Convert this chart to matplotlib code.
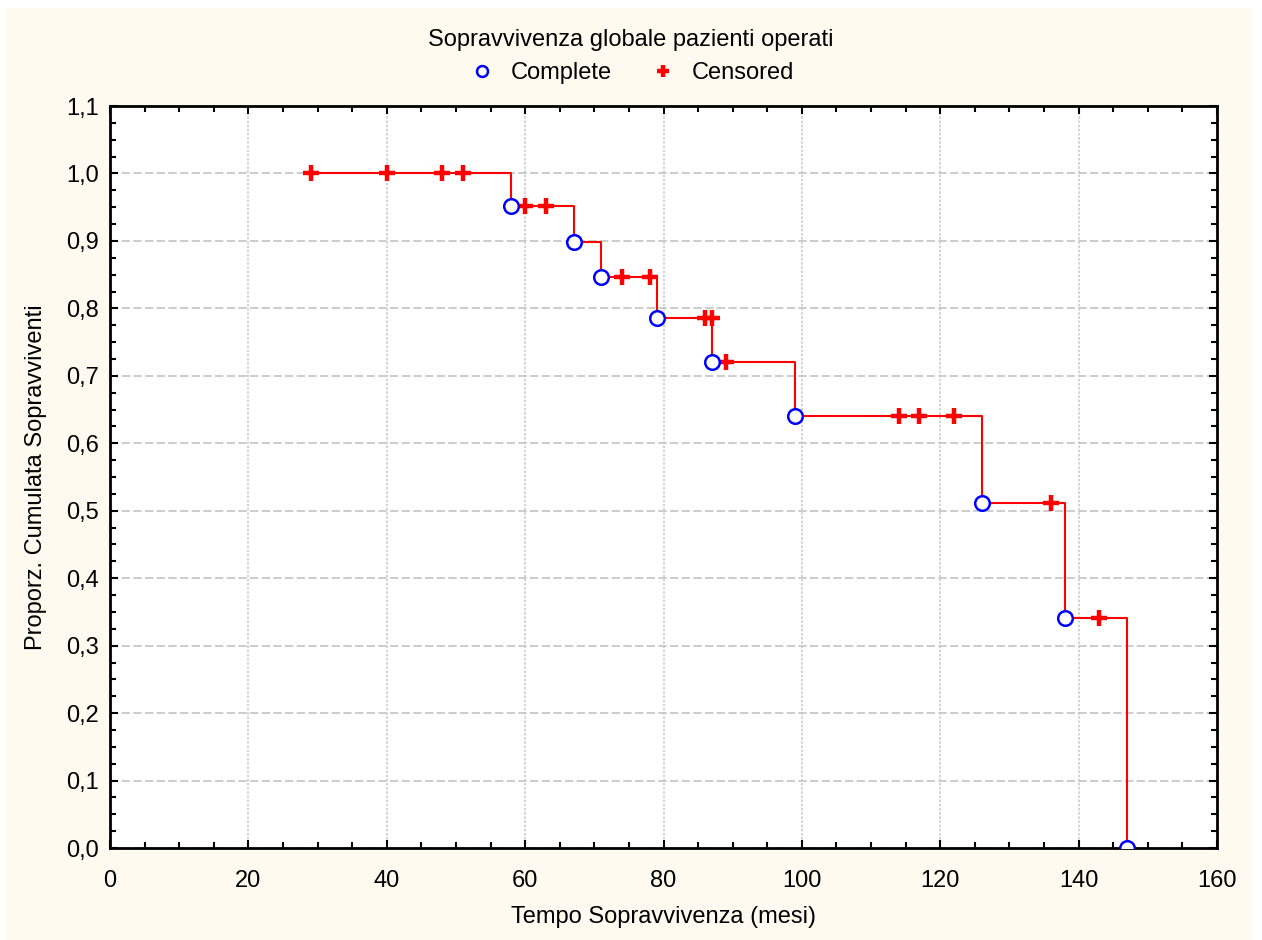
import numpy as np
import matplotlib.pyplot as plt
from matplotlib.patches import Rectangle
from matplotlib.ticker import MultipleLocator, FuncFormatter

plt.rcParams['font.family'] = ['Liberation Sans', 'DejaVu Sans']

# Kaplan-Meier step curve (time in months, cumulative survival)
step_time = [29, 58, 67, 71, 79, 87, 99, 126, 138, 147]
step_surv = [1.0, 0.952, 0.899, 0.847, 0.786, 0.720, 0.640, 0.512, 0.341, 0.0]

# complete (event) observations
complete_time = [58, 67, 71, 79, 87, 99, 126, 138, 147]
complete_surv = [0.952, 0.899, 0.847, 0.786, 0.720, 0.640, 0.512, 0.341, 0.0]

# censored observations
censored_time = [29, 40, 48, 51, 60, 63, 74, 78, 86, 87, 89, 114, 117, 122, 136, 143]
censored_surv = [1.0, 1.0, 1.0, 1.0, 0.952, 0.952, 0.847, 0.847, 0.786, 0.786,
                 0.720, 0.640, 0.640, 0.640, 0.512, 0.341]

cream = '#fffaef'
fs = 17

fig = plt.figure(figsize=(12.62, 9.4), dpi=100)
fig.patch.set_facecolor('white')
fig.patches.append(Rectangle((6 / 1262, 0), 1246 / 1262, 1 - 8 / 940,
                             transform=fig.transFigure, facecolor=cream,
                             edgecolor='none', zorder=-10))

ax = fig.add_axes([110 / 1262, 1 - 848 / 940, 1107 / 1262, 742 / 940])
ax.set_facecolor('white')

ax.plot(step_time, step_surv, drawstyle='steps-post', color='red', lw=1.5, zorder=3)
ax.plot(censored_time, censored_surv, ls='none', marker='+', ms=12, mew=3.2,
        color='red', zorder=4, label='Censored')
ax.plot(complete_time, complete_surv, ls='none', marker='o', ms=10.5, mew=1.8,
        mec='blue', mfc='white', zorder=5, label='Complete')

ax.set_xlim(0, 160)
ax.set_ylim(0, 1.1)
ax.xaxis.set_major_locator(MultipleLocator(20))
ax.xaxis.set_minor_locator(MultipleLocator(5))
ax.yaxis.set_major_locator(MultipleLocator(0.1))
ax.yaxis.set_minor_locator(MultipleLocator(0.025))
ax.yaxis.set_major_formatter(FuncFormatter(lambda v, p: f'{v:.1f}'.replace('.', ',')))

ax.tick_params(which='both', direction='in', top=True, right=True,
               color='black', width=1.5, labelsize=fs)
ax.tick_params(which='major', length=6)
ax.tick_params(which='minor', length=4)
ax.tick_params(axis='x', which='major', pad=16)
ax.tick_params(axis='y', which='major', pad=8)
for s in ax.spines.values():
    s.set_linewidth(2)

ax.yaxis.grid(True, color='#c4c4c4', ls=(0, (5, 2)), lw=1.2)
ax.xaxis.grid(True, color='#cccccc', ls=(0, (1.5, 1)), lw=1.2)
ax.set_axisbelow(True)

ax.set_xlabel('Tempo Sopravvivenza (mesi)', fontsize=fs, labelpad=10)
ax.set_ylabel('Proporz. Cumulata Sopravviventi', fontsize=fs, labelpad=14)

fig.text(0.5, 1 - 40 / 940, 'Sopravvivenza globale pazienti operati',
         ha='center', va='center', fontsize=fs)
h, l = ax.get_legend_handles_labels()
fig.legend(h[::-1], l[::-1], loc='center', bbox_to_anchor=(0.5, 1 - 73 / 940),
           ncol=2, frameon=False, fontsize=fs, handlelength=1.2,
           handletextpad=0.6, columnspacing=1.6, markerscale=0.75)

fig.savefig('out.png', dpi=100, facecolor='white')
